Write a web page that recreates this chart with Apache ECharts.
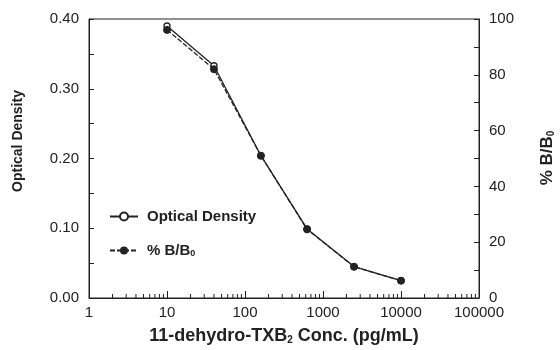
<!DOCTYPE html>
<html>
<head>
<meta charset="utf-8">
<script src="https://cdn.jsdelivr.net/npm/echarts@6/dist/echarts.min.js"></script>
<style>html,body{margin:0;padding:0;background:#fff}#c{width:560px;height:350px}</style>
</head>
<body>
<div id="c"></div>
<script>
var concentrations = [10, 40, 160, 625, 2500, 10000];
var opticalDensity = [0.390, 0.333, 0.204, 0.099, 0.045, 0.025];
var percentBB0 = [96.1, 82.0, 51.0, 24.6, 11.2, 6.2];
var xMinorTicks = [2,3,4,5,6,7,8,9,20,30,40,50,60,70,80,90,200,300,400,500,600,700,800,900,2000,3000,4000,5000,6000,7000,8000,9000,20000,30000,40000,50000,60000,70000,80000,90000];
var leftTickLabels = ['0.00','0.10','0.20','0.30','0.40'];

var FONT = 'Liberation Sans';
var INK = '#222';
var chart = echarts.init(document.getElementById('c'));
var odData = concentrations.map(function(c, i){ return [c, opticalDensity[i]]; });
var bbData = concentrations.map(function(c, i){ return [c, percentBB0[i]]; });
function sub(size){ return {fontFamily: FONT, fontWeight: 'bold', fontSize: size, color: INK, fill: INK, verticalAlign: 'bottom', padding: [Math.round(size*0.8),0,0,0]}; }

chart.setOption({
  animation: false,
  backgroundColor: '#fff',
  grid: {left: 89, right: 81, top: 19, bottom: 52, show: true, borderColor: INK, borderWidth: 1},
  legend: {
    left: 104, top: 204, orient: 'vertical', itemGap: 19, itemWidth: 28, itemHeight: 10,
    data: ['Optical Density', '% B/B0'],
    formatter: function(n){ return n === '% B/B0' ? '% B/B{s|0}' : n; },
    textStyle: {fontFamily: FONT, fontWeight: 'bold', fontSize: 15, color: INK, padding: [0,0,0,4],
      rich: {s: sub(9)}}
  },
  xAxis: {
    type: 'log', logBase: 10, min: 1, max: 100000,
    axisLine: {lineStyle: {color: INK, width: 1}},
    axisTick: {inside: true, length: 7, lineStyle: {color: INK}},
    axisLabel: {fontFamily: FONT, fontSize: 15, color: INK, margin: 7, formatter: function(v){ return String(v); }},
    splitLine: {show: false},
    name: '11-dehydro-TXB{s|2} Conc. (pg/mL)', nameLocation: 'middle', nameGap: 29,
    nameTextStyle: {fontFamily: FONT, fontWeight: 'bold', fontSize: 18, color: INK, rich: {s: sub(10)}}
  },
  yAxis: [{
    type: 'value', min: 0, max: 0.4, interval: 0.1,
    axisLine: {show: true, lineStyle: {color: INK}},
    axisTick: {inside: true, length: 5, lineStyle: {color: INK}},
    minorTick: {show: true, splitNumber: 2, length: 5, lineStyle: {color: INK}},
    axisLabel: {fontFamily: FONT, fontSize: 15, color: INK, margin: 10,
      formatter: function(v){ return leftTickLabels[Math.round(v*10)]; }},
    splitLine: {show: false}
  }, {
    type: 'value', min: 0, max: 100, interval: 20, position: 'right',
    axisLine: {show: true, lineStyle: {color: INK}},
    axisTick: {inside: true, length: 5, lineStyle: {color: INK}},
    minorTick: {show: true, splitNumber: 2, length: 5, lineStyle: {color: INK}},
    axisLabel: {fontFamily: FONT, fontSize: 15, color: INK, margin: 10},
    splitLine: {show: false}
  }],
  graphic: [
    {type: 'text', x: 18, y: 141, rotation: Math.PI/2,
      style: {text: 'Optical Density', fontFamily: FONT, fontWeight: 'bold', fontSize: 14, fill: INK, align: 'center', verticalAlign: 'middle'}},
    {type: 'text', x: 547, y: 158, rotation: Math.PI/2,
      style: {text: '% B/B{s|0}', fontFamily: FONT, fontWeight: 'bold', fontSize: 17, fill: INK, align: 'center', verticalAlign: 'middle',
        rich: {s: sub(10)}}}
  ],
  series: [{
    name: 'Optical Density', type: 'line', data: odData, yAxisIndex: 0,
    symbol: 'circle', symbolSize: 6, showSymbol: true,
    itemStyle: {color: '#fff', borderColor: INK, borderWidth: 1.3},
    lineStyle: {color: INK, width: 1.3},
    z: 2
  }, {
    name: '% B/B0', type: 'line', data: bbData, yAxisIndex: 1,
    symbol: 'circle', symbolSize: 7,
    itemStyle: {color: INK, borderColor: INK},
    lineStyle: {color: INK, width: 1.3, type: [5, 2]},
    z: 3
  }, {
    type: 'custom', silent: true, data: xMinorTicks.map(function(v){ return [v]; }),
    encode: {x: 0}, clip: false,
    renderItem: function(params, api){
      var p = api.coord([api.value(0), 0]);
      return {type: 'line', shape: {x1: p[0], y1: p[1], x2: p[0], y2: p[1]-4}, style: {stroke: INK, lineWidth: 1}};
    }
  }]
});
</script>
</body>
</html>
